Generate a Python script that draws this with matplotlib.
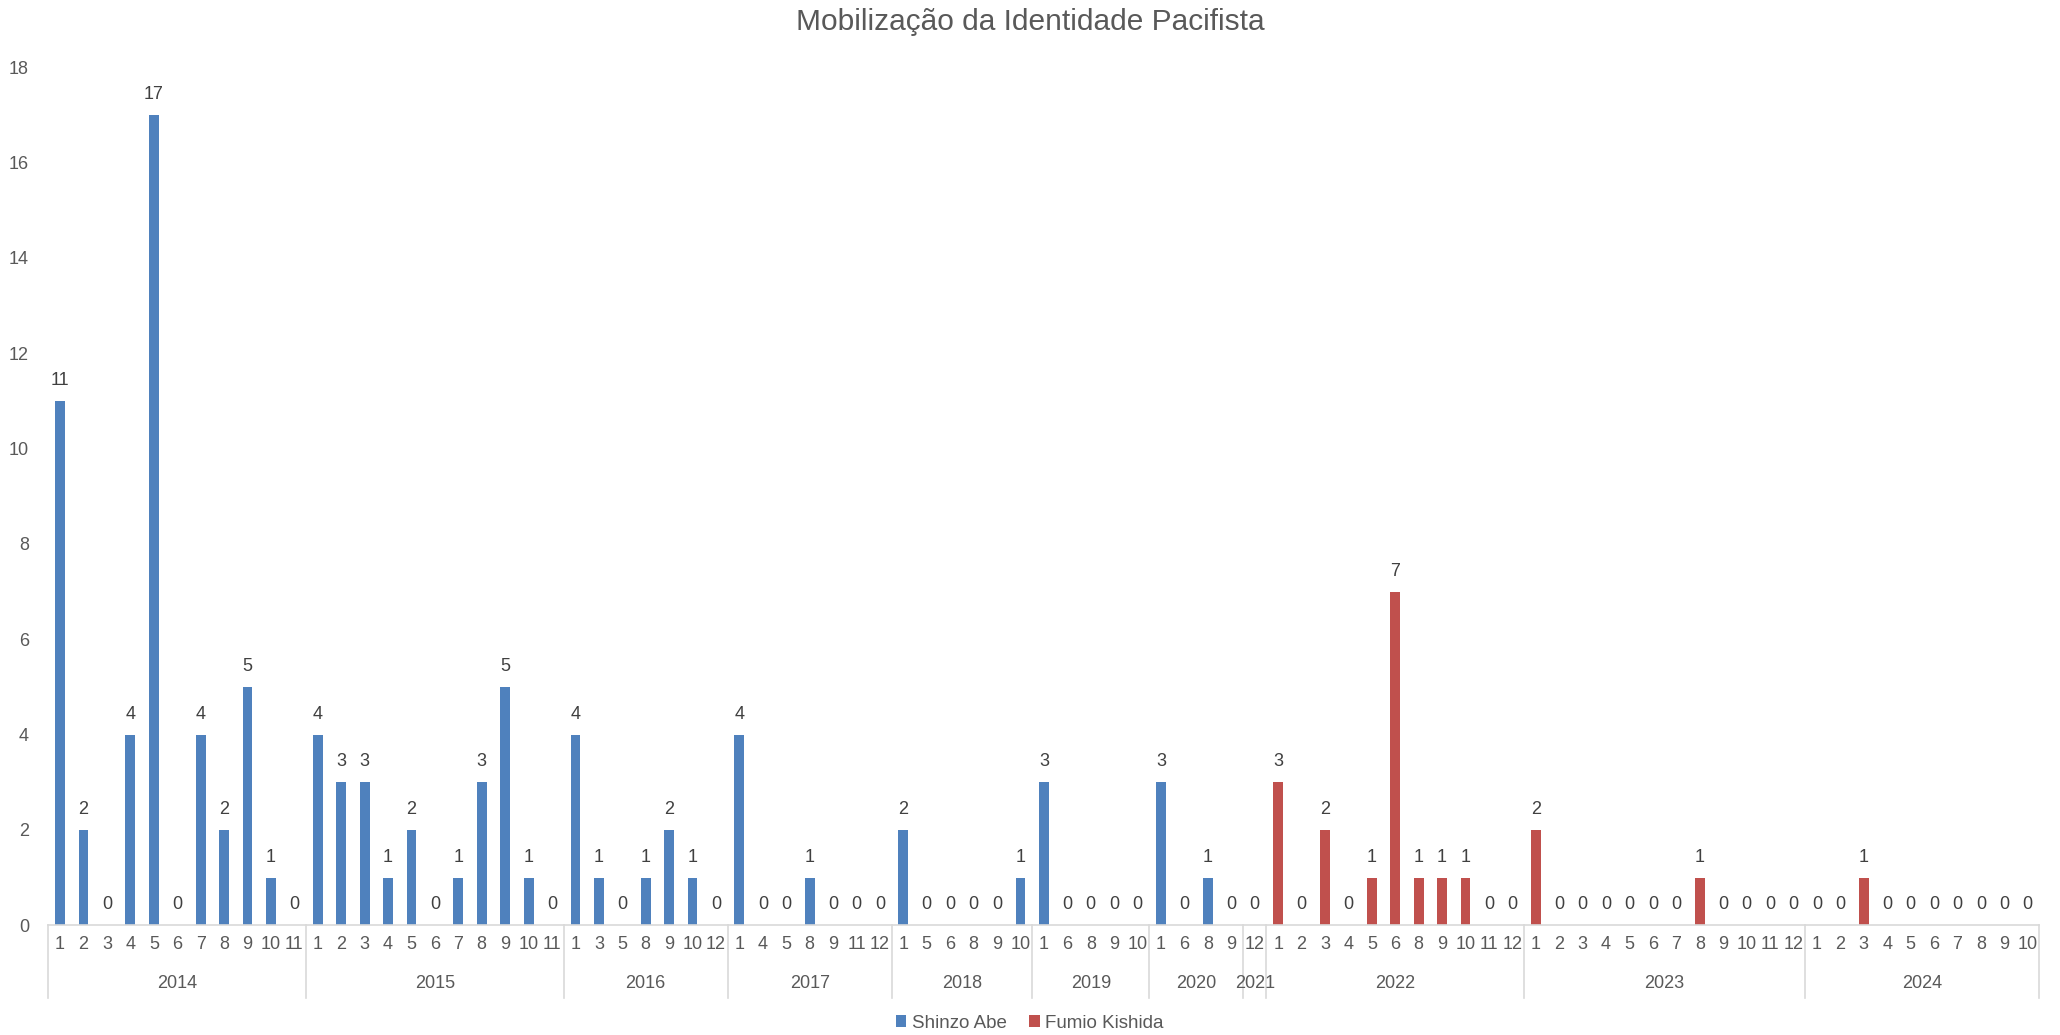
import matplotlib
matplotlib.use("Agg")
import matplotlib.pyplot as plt
import matplotlib.transforms as mtransforms
from matplotlib.patches import Patch

plt.rcParams['font.family'] = ['Liberation Sans', 'DejaVu Sans']

title = "Mobilização da Identidade Pacifista"
series_names = ["Shinzo Abe", "Fumio Kishida"]
colors = ["#4F81BD", "#C0504D"]

years = ["2014", "2015", "2016", "2017", "2018", "2019", "2020", "2021", "2022", "2023", "2024"]
months_2014 = [1, 2, 3, 4, 5, 6, 7, 8, 9, 10, 11]
months_2015 = [1, 2, 3, 4, 5, 6, 7, 8, 9, 10, 11]
months_2016 = [1, 3, 5, 8, 9, 10, 12]
months_2017 = [1, 4, 5, 8, 9, 11, 12]
months_2018 = [1, 5, 6, 8, 9, 10]
months_2019 = [1, 6, 8, 9, 10]
months_2020 = [1, 6, 8, 9]
months_2021 = [12]
months_2022 = [1, 2, 3, 4, 5, 6, 8, 9, 10, 11, 12]
months_2023 = [1, 2, 3, 4, 5, 6, 7, 8, 9, 10, 11, 12]
months_2024 = [1, 2, 3, 4, 5, 6, 7, 8, 9, 10]

values_2014 = [11, 2, 0, 4, 17, 0, 4, 2, 5, 1, 0]
values_2015 = [4, 3, 3, 1, 2, 0, 1, 3, 5, 1, 0]
values_2016 = [4, 1, 0, 1, 2, 1, 0]
values_2017 = [4, 0, 0, 1, 0, 0, 0]
values_2018 = [2, 0, 0, 0, 0, 1]
values_2019 = [3, 0, 0, 0, 0]
values_2020 = [3, 0, 1, 0]
values_2021 = [0]
values_2022 = [3, 0, 2, 0, 1, 7, 1, 1, 1, 0, 0]
values_2023 = [2, 0, 0, 0, 0, 0, 0, 1, 0, 0, 0, 0]
values_2024 = [0, 0, 1, 0, 0, 0, 0, 0, 0, 0]

# which series each year belongs to (0 = Abe, 1 = Kishida)
year_series = [0, 0, 0, 0, 0, 0, 0, 1, 1, 1, 1]

months_by_year = [months_2014, months_2015, months_2016, months_2017, months_2018,
                  months_2019, months_2020, months_2021, months_2022, months_2023, months_2024]
values_by_year = [values_2014, values_2015, values_2016, values_2017, values_2018,
                  values_2019, values_2020, values_2021, values_2022, values_2023, values_2024]

text_color = "#595959"
line_color = "#D9D9D9"

fig = plt.figure(figsize=(20.6, 10.35), dpi=100)
ax_h = 0.829
ax = fig.add_axes([0.0235, 0.106, 0.9665, ax_h])

xs, labels = [], []
idx = 0
boundaries = [-0.5]
year_centers = []
for yr, ms, vs, s in zip(years, months_by_year, values_by_year, year_series):
    start = idx
    pos = list(range(idx, idx + len(ms)))
    ax.bar(pos, vs, width=0.42, color=colors[s], zorder=2)
    for p, v in zip(pos, vs):
        ax.text(p, v + 0.25, str(v), ha="center", va="bottom", fontsize=13, color="#404040")
    xs += pos
    labels += [str(m) for m in ms]
    idx += len(ms)
    boundaries.append(idx - 0.5)
    year_centers.append((start + idx - 1) / 2)

ax.set_xlim(-0.5, idx - 0.5)
ax.set_ylim(0, 18)
ax.set_yticks(range(0, 19, 2))
ax.set_xticks(xs)
ax.set_xticklabels(labels)
ax.tick_params(axis="x", length=0, pad=8, labelsize=13, labelcolor=text_color)
ax.tick_params(axis="y", length=0, pad=14, labelsize=13, labelcolor=text_color)
for side in ["top", "right", "left"]:
    ax.spines[side].set_visible(False)
ax.spines["bottom"].set_color(line_color)
ax.spines["bottom"].set_linewidth(1.2)

trans = mtransforms.blended_transform_factory(ax.transData, ax.transAxes)
bottom_frac = 73 / (ax_h * 1035)
for b in boundaries:
    ax.plot([b, b], [0, -bottom_frac], transform=trans, color=line_color, lw=1.2, clip_on=False)
year_off = 58 / (ax_h * 1035)
for yr, c in zip(years, year_centers):
    ax.text(c, -year_off, yr, transform=trans, ha="center", va="center", fontsize=13, color=text_color)

fig.text(0.5, 1 - 22 / 1035, title, ha="center", va="center", fontsize=21.5, color=text_color)

handles = [Patch(facecolor=colors[0], label=series_names[0]),
           Patch(facecolor=colors[1], label=series_names[1])]
fig.legend(handles=handles, loc="center", bbox_to_anchor=(0.5, 1 - 1023 / 1035), ncol=2,
           frameon=False, fontsize=13.5, handlelength=0.55, handleheight=0.55,
           handletextpad=0.3, columnspacing=1.2, labelcolor=text_color)

fig.savefig("out.png", dpi=100, facecolor="white")
